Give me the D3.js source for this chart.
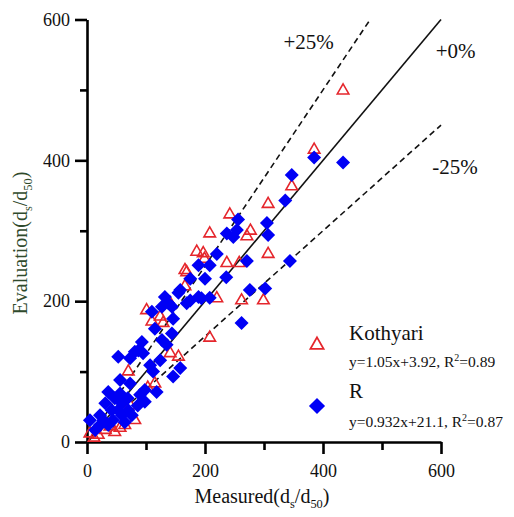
<!DOCTYPE html>
<html>
<head>
<meta charset="utf-8">
<script src="https://cdn.jsdelivr.net/npm/d3@7"></script>
<style>
  body { margin: 0; background: #fff; }
  text { font-family: "Liberation Serif", "Times New Roman", serif; }
</style>
</head>
<body>
<div id="chart"></div>
<script>
// Kothyari (red open triangles): [measured, evaluated]
var kothyari = [
  [434,499],[385,415],[347,363],[307,338],[242,323],[277,300],[271,292],[208,296],
  [307,267],[197,268],[199,260],[237,254],[258,254],[220,204],[262,201],[299,201],
  [208,148],[186,270],[166,244],[166,221],[124,178],[110,171],[129,169],[141,126],
  [155,121],[70,100],[115,83],[5,12],[31,17],[39,22],[19,10],[169,241],[47,14],
  [56,20],[64,24],[12,6],[81,31],[73,52],[103,77],[141,197],[101,187]
]

// R (blue diamonds)
var rData = [
  [385,404],[434,397],[347,379],[336,343],[256,316],[305,311],[237,296],[248,291],
  [254,301],[307,294],[344,257],[220,267],[208,251],[271,257],[200,232],[236,234],
  [276,216],[302,218],[208,205],[194,204],[262,169],[189,251],[175,232],[158,216],
  [175,201],[189,206],[132,206],[127,192],[144,192],[110,185],[146,175],[115,161],
  [144,154],[127,145],[93,142],[87,130],[135,138],[53,121],[73,119],[95,126],
  [158,105],[146,93],[112,100],[56,88],[73,83],[98,74],[118,71],[98,57],[36,71],
  [47,62],[31,55],[59,55],[70,45],[59,38],[42,45],[22,38],[5,31],[28,31],[81,128],
  [155,212],[169,197],[138,197],[44,31],[64,28],[76,38],[53,45],[36,24],[86,52],
  [69,62],[90,67],[22,24],[14,17],[56,69],[107,109],[124,116]
]

var xTicks = [0, 200, 400, 600]
var xMinor = [100, 300, 500]
var yTicks = [0, 200, 400, 600]
var yMinor = [100, 300, 500]

// reference lines y = slope * x
var refNames = ["+25%", "+0%", "-25%"]
var refSlopes = [1.25, 1, 0.75]
var refXmax = [478, 600, 600]

var width = 514, height = 517

var svg = d3.select('#chart').append('svg')
  .attr('width', width)
  .attr('height', height)

var x = d3.scaleLinear().domain([0, 600]).range([87, 441])
var y = d3.scaleLinear().domain([0, 600]).range([442, 19.5])

var red = "#e5262c", blue = "#0000f5"

// axes
function styleAxis(g) {
  g.select('.domain').attr('stroke', '#000').attr('stroke-width', 2.6)
  g.selectAll('.tick line').attr('stroke', '#000').attr('stroke-width', 2.6)
  g.selectAll('.tick text')
    .attr('font-family', '"Liberation Serif", serif')
    .attr('font-size', 18)
    .attr('fill', '#111')
}

var yAxis = svg.append('g')
  .attr('transform', 'translate(' + x(0) + ',0)')
  .call(d3.axisLeft(y).tickValues(yTicks).tickSize(12).tickSizeOuter(0).tickPadding(5))
styleAxis(yAxis)

var yAxisMinor = svg.append('g')
  .attr('transform', 'translate(' + x(0) + ',0)')
  .call(d3.axisLeft(y).tickValues(yMinor).tickSize(7).tickFormat(''))
styleAxis(yAxisMinor)
yAxisMinor.select('.domain').remove()

var xAxis = svg.append('g')
  .attr('transform', 'translate(0,' + y(0) + ')')
  .call(d3.axisBottom(x).tickValues(xTicks).tickSize(12).tickSizeOuter(0).tickPadding(10))
styleAxis(xAxis)

var xAxisMinor = svg.append('g')
  .attr('transform', 'translate(0,' + y(0) + ')')
  .call(d3.axisBottom(x).tickValues(xMinor).tickSize(8).tickFormat(''))
styleAxis(xAxisMinor)
xAxisMinor.select('.domain').remove()

// axis titles with subscripts
function ds50(t, size) {
  t.append('tspan').text('(d')
  t.append('tspan').text('s').attr('font-size', size * 0.62).attr('dy', 5)
  t.append('tspan').text('/d').attr('dy', -5)
  t.append('tspan').text('50').attr('font-size', size * 0.62).attr('dy', 5)
  t.append('tspan').text(')').attr('dy', -5)
}

var xt = svg.append('text')
  .attr('x', 262).attr('y', 503)
  .attr('text-anchor', 'middle')
  .attr('font-size', 20)
  .attr('fill', '#111')
xt.append('tspan').text('Measured')
ds50(xt, 20)

var yt = svg.append('text')
  .attr('transform', 'translate(27,243) rotate(-90)')
  .attr('text-anchor', 'middle')
  .attr('font-size', 20)
  .attr('fill', '#2f4a2c')
yt.append('tspan').text('Evaluation')
ds50(yt, 20)

// reference lines
refNames.forEach(function(name, i) {
  svg.append('line')
    .attr('x1', x(0)).attr('y1', y(0))
    .attr('x2', x(refXmax[i])).attr('y2', y(refXmax[i] * refSlopes[i]))
    .attr('stroke', '#111')
    .attr('stroke-width', 1.6)
    .attr('stroke-dasharray', refSlopes[i] === 1 ? null : '6,4')
})

var labelPos = [[333, 558], [591, 546], [585, 381]]
refNames.forEach(function(name, i) {
  svg.append('text')
    .attr('x', x(labelPos[i][0])).attr('y', y(labelPos[i][1]))
    .attr('font-size', 21)
    .attr('fill', '#111')
    .text(name)
})

// points
var tri = d3.symbol().type(d3.symbolTriangle).size(58)
var sq = d3.symbol().type(d3.symbolSquare).size(98)

svg.selectAll('.kothyari')
  .data(kothyari)
  .enter().append('path')
  .attr('class', 'kothyari')
  .attr('d', tri)
  .attr('transform', function(d) { return 'translate(' + x(d[0]) + ',' + y(d[1]) + ')' })
  .attr('fill', 'none')
  .attr('stroke', red)
  .attr('stroke-width', 1.6)

svg.selectAll('.rpts')
  .data(rData)
  .enter().append('path')
  .attr('class', 'rpts')
  .attr('d', sq)
  .attr('transform', function(d) { return 'translate(' + x(d[0]) + ',' + y(d[1]) + ') rotate(45)' })
  .attr('fill', blue)

// legend
var lg = svg.append('g')
lg.append('path')
  .attr('d', d3.symbol().type(d3.symbolTriangle).size(75))
  .attr('transform', 'translate(317,345)')
  .attr('fill', 'none').attr('stroke', red).attr('stroke-width', 1.8)
lg.append('text').attr('x', 349).attr('y', 340).attr('font-size', 21).attr('fill', '#111').text('Kothyari')
var e1 = lg.append('text').attr('x', 349).attr('y', 367).attr('font-size', 15.5).attr('fill', '#111')
e1.append('tspan').text('y=1.05x+3.92, R')
e1.append('tspan').text('2').attr('font-size', 10).attr('dy', -6)
e1.append('tspan').text('=0.89').attr('dy', 6)

lg.append('path')
  .attr('d', d3.symbol().type(d3.symbolSquare).size(130))
  .attr('transform', 'translate(317,406) rotate(45)')
  .attr('fill', blue)
lg.append('text').attr('x', 349).attr('y', 398).attr('font-size', 21).attr('fill', '#111').text('R')
var e2 = lg.append('text').attr('x', 349).attr('y', 427).attr('font-size', 15.5).attr('fill', '#111')
e2.append('tspan').text('y=0.932x+21.1, R')
e2.append('tspan').text('2').attr('font-size', 10).attr('dy', -6)
e2.append('tspan').text('=0.87').attr('dy', 6)
</script>
</body>
</html>
